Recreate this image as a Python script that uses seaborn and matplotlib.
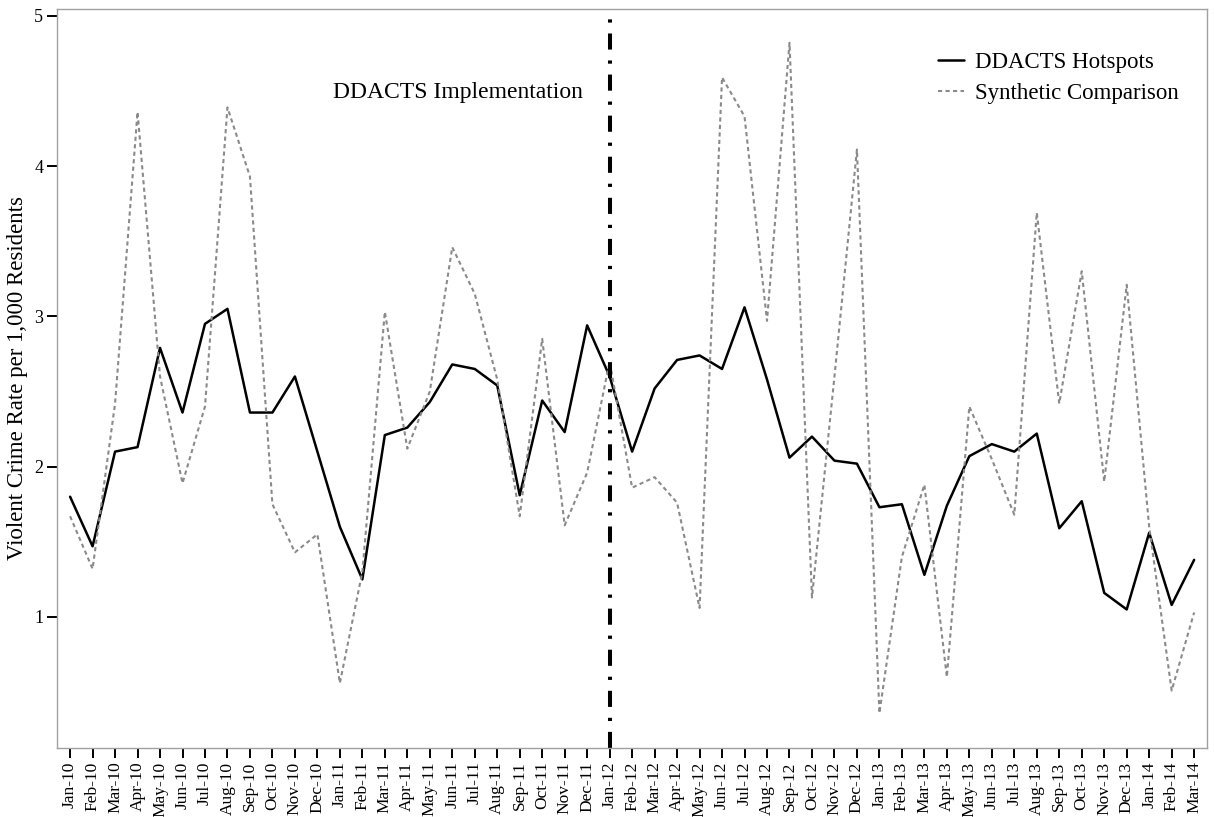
import numpy as np
import pandas as pd
import matplotlib
matplotlib.use("Agg")
import matplotlib.pyplot as plt
import seaborn as sns

# month labels Jan-10 .. Mar-14
months = ["Jan", "Feb", "Mar", "Apr", "May", "Jun", "Jul", "Aug", "Sep", "Oct", "Nov", "Dec"]
month_labels = [f"{m}-{y:02d}" for y in range(10, 15) for m in months][:51]

hotspots = [1.80, 1.47, 2.10, 2.13, 2.79, 2.36, 2.95, 3.05, 2.36, 2.36,
            2.60, 2.10, 1.60, 1.25, 2.21, 2.26, 2.43, 2.68, 2.65, 2.54,
            1.81, 2.44, 2.23, 2.94, 2.60, 2.10, 2.52, 2.71, 2.74, 2.65,
            3.06, 2.58, 2.06, 2.20, 2.04, 2.02, 1.73, 1.75, 1.28, 1.74,
            2.07, 2.15, 2.10, 2.22, 1.59, 1.77, 1.16, 1.05, 1.56, 1.08,
            1.38]

synthetic = [1.67, 1.32, 2.42, 4.36, 2.60, 1.89, 2.40, 4.39, 3.93, 1.75,
             1.43, 1.55, 0.56, 1.30, 3.03, 2.12, 2.50, 3.46, 3.15, 2.58,
             1.67, 2.85, 1.61, 1.96, 2.70, 1.86, 1.93, 1.76, 1.06, 4.59,
             4.33, 2.97, 4.82, 1.13, 2.60, 4.11, 0.36, 1.40, 1.88, 0.60,
             2.40, 2.05, 1.68, 3.69, 2.42, 3.30, 1.90, 3.21, 1.60, 0.51,
             1.03]

impl_month = "Jan-12"

df = pd.DataFrame({
    "idx": range(len(month_labels)),
    "DDACTS Hotspots": hotspots,
    "Synthetic Comparison": synthetic,
})

sns.set_theme(style="white")
plt.rcParams["font.family"] = ["Liberation Serif", "DejaVu Serif"]
plt.rcParams["text.color"] = "black"
plt.rcParams["axes.labelcolor"] = "black"
plt.rcParams["xtick.color"] = "black"
plt.rcParams["ytick.color"] = "black"

fig = plt.figure(figsize=(12.14, 8.17), dpi=100)
ax = fig.add_axes([0.047, 0.0848, 0.9472, 0.9042])

sns.lineplot(data=df, x="idx", y="DDACTS Hotspots", ax=ax, color="black",
             linewidth=1.8, label="DDACTS Hotspots")
sns.lineplot(data=df, x="idx", y="Synthetic Comparison", ax=ax, color="#8a8a8a",
             linewidth=1.5, linestyle=(0, (2, 1.6)), label="Synthetic Comparison")

# implementation marker
ax.axvline(month_labels.index(impl_month), ymin=0, ymax=0.994, color="black",
           linewidth=2.9, linestyle=(0, (4, 2.7, 0.8, 2.7)))
ax.text(22.8, 4.49, "DDACTS Implementation", ha="right", va="center", fontsize=17)

ax.set_xlim(-0.58, 50.57)
ax.set_ylim(0.13, 5.045)
ax.set_xticks(df["idx"])
ax.set_xticklabels(month_labels, rotation=90, fontsize=12.5)
ax.set_yticks([1, 2, 3, 4, 5])
ax.set_yticklabels(["1", "2", "3", "4", "5"], fontsize=13)
ax.set_xlabel("")
ax.set_ylabel("Violent Crime Rate per 1,000 Residents", fontsize=16.5, labelpad=4)
ax.tick_params(axis="both", direction="out", length=7, width=1.4, color="black",
               bottom=True, left=True, pad=3)

for s in ax.spines.values():
    s.set_color("#a0a0a0")
    s.set_linewidth(1.0)

leg = ax.legend(loc="upper right", bbox_to_anchor=(0.993, 0.97), frameon=False,
                fontsize=16.5, handlelength=1.15, handletextpad=0.45, labelspacing=0.45)

fig.savefig("out.png", dpi=100)
